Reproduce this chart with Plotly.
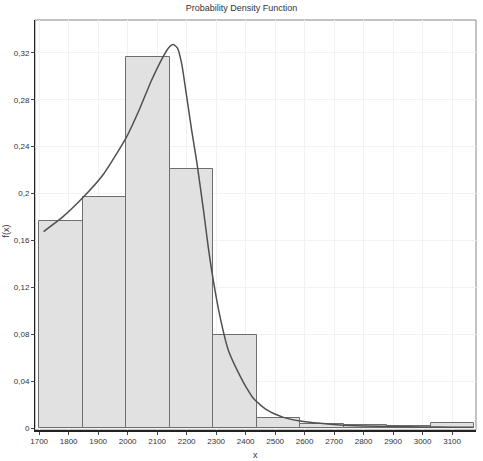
import plotly.graph_objects as go

# histogram bins (edges) and bar heights
bin_edges = [1700, 1847.5, 1995, 2142.5, 2290, 2437.5, 2585, 2732.5, 2880, 3027.5, 3175]
bin_heights = [0.1766, 0.1974, 0.3163, 0.2207, 0.0794, 0.0083, 0.0031, 0.0026, 0.0017, 0.0040]

# fitted density curve
curve_x = [1715, 1782, 1850, 1918, 1997, 2042, 2080, 2121, 2138, 2155, 2169,
           2183, 2200, 2217, 2235, 2257, 2274, 2291, 2314, 2342, 2381, 2404, 2426,
           2472, 2528, 2585, 2653, 2720, 2800, 2900, 3000, 3100, 3172]
curve_y = [0.1675, 0.1805, 0.197, 0.2165, 0.2486, 0.273, 0.296, 0.317, 0.324,
           0.327, 0.324, 0.311, 0.283, 0.254, 0.226, 0.186, 0.153, 0.125, 0.094,
           0.066, 0.0445, 0.0339, 0.0253, 0.0154, 0.0091, 0.006, 0.004, 0.0026,
           0.0018, 0.0012, 0.0009, 0.0007, 0.0006]

x_ticks = list(range(1700, 3101, 100))
y_ticks = [0, 0.04, 0.08, 0.12, 0.16, 0.2, 0.24, 0.28, 0.32]

centers = [(a + b) / 2 for a, b in zip(bin_edges[:-1], bin_edges[1:])]
widths = [b - a for a, b in zip(bin_edges[:-1], bin_edges[1:])]

fig = go.Figure()
fig.add_trace(go.Bar(
    x=centers, y=bin_heights, width=widths,
    marker=dict(color="#e1e1e1", line=dict(color="#6e6e6e", width=1)),
    hoverinfo="skip",
))
fig.add_trace(go.Scatter(
    x=curve_x, y=curve_y, mode="lines",
    line=dict(color="#505050", width=1.5, shape="spline", smoothing=0.6),
))

font = dict(family="Liberation Sans, Arial, sans-serif", size=8, color="#333333")

fig.update_layout(
    width=483, height=461,
    margin=dict(l=35, r=7, t=20, b=31),
    paper_bgcolor="white", plot_bgcolor="white",
    showlegend=False,
    separators=",.",
    font=font,
    bargap=0,
    title=dict(text="Probability Density Function", x=0.5, xanchor="center",
               y=0.983, yanchor="middle", font=dict(size=9, color="#333333")),
    xaxis=dict(
        range=[1686, 3181], tickvals=x_ticks, ticks="outside", ticklen=3,
        tickcolor="#444", showline=True, linecolor="#222", linewidth=1.5,
        showgrid=True, gridcolor="#f2f2f2", zeroline=False, automargin=False,
    ),
    yaxis=dict(
        range=[-0.0017, 0.348], tickvals=y_ticks, ticks="outside", ticklen=3,
        tickcolor="#444", showline=True, linecolor="#222", linewidth=1,
        showgrid=True, gridcolor="#f2f2f2", zeroline=False, automargin=False,
    ),
    annotations=[
        dict(text="x", xref="paper", yref="paper", x=0.5, y=-0.06,
             xanchor="center", yanchor="middle", showarrow=False,
             font=dict(size=9)),
        dict(text="f(x)", xref="paper", yref="paper", x=-0.065, y=0.485,
             xanchor="center", yanchor="middle", showarrow=False, textangle=-90,
             font=dict(size=9)),
    ],
)

# light frame around the plotting area
fig.add_shape(type="rect", xref="paper", yref="paper", x0=0, y0=0, x1=1, y1=1,
              line=dict(color="#888888", width=1), layer="below")

# drop the browser's default page margin so the figure fills the window
fig.write_html("out.html", config={"displayModeBar": False},
               post_script="document.body.style.margin='0';")
